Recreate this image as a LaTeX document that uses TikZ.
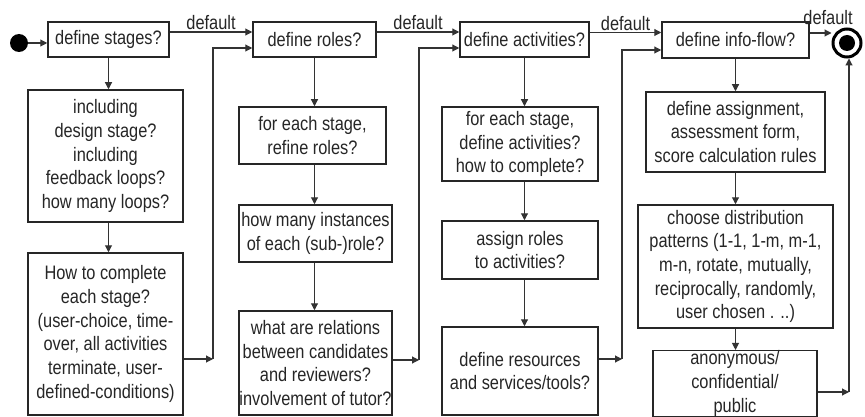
\documentclass[tikz,border=0pt]{standalone}
\usepackage{fontspec}
\setmainfont{Liberation Sans}[FakeStretch=0.84]
\usetikzlibrary{arrows.meta}
\begin{document}
\begin{tikzpicture}[x=1pt,y=-1pt,
  box/.style={draw=black!85, line width=1.5pt, rectangle, inner sep=0pt, align=center,
    font=\fontsize{19.5}{23.7}\selectfont, text=black!85},
  conn/.style={draw=black!80, line width=1.1pt, -{Triangle[length=7pt,width=7pt]}},
  plain/.style={draw=black!80, line width=1.1pt},
  lbl/.style={font=\fontsize{19.5}{23.7}\selectfont, text=black!85, inner sep=1.5pt}]
\useasboundingbox[fill=white] (0,0) rectangle (865,417);

% start / end
\node[circle, fill=black, minimum size=18pt, inner sep=0pt] (start) at (19,43) {};
\node[circle, draw=black, line width=3pt, minimum size=28pt, inner sep=0pt] (end) at (847,43) {};
\node[circle, fill=black, minimum size=16pt, inner sep=0pt] (endin) at (end.center) {};

% column A
\node[box, minimum width=121pt, minimum height=35pt] (A1) at (108.5,39.5) {define stages?};
\node[box, minimum width=155pt, minimum height=132pt] (A2) at (105.5,156) {including\\design stage?\\including\\feedback loops?\\how many loops?};
\node[box, minimum width=155pt, minimum height=162pt] (A3) at (105.5,334) {How to complete\\each stage?\\(user-choice, time-\\over, all activities\\terminate, user-\\defined-conditions)};

% column B
\node[box, minimum width=123pt, minimum height=35pt] (B1) at (314.5,39.5) {define roles?};
\node[box, minimum width=147pt, minimum height=57pt] (B2) at (312.5,135.5) {for each stage,\\refine roles?};
\node[box, minimum width=153pt, minimum height=57pt] (B3) at (315.5,233.5) {how many instances\\of each (sub-)role?};
\node[box, minimum width=153pt, minimum height=104pt] (B4) at (315.5,363) {what are relations\\between candidates\\and reviewers?\\involvement of tutor?};

% column C
\node[box, minimum width=129pt, minimum height=35pt] (C1) at (524.5,39.5) {define activities?};
\node[box, minimum width=156pt, minimum height=74pt] (C2) at (520,144) {for each stage,\\define activities?\\how to complete?};
\node[box, minimum width=156pt, minimum height=58pt] (C3) at (520,250) {assign roles\\to activities?};
\node[box, minimum width=156pt, minimum height=88pt] (C4) at (520,371) {define resources\\and services/tools?};

% column D
\node[box, minimum width=147pt, minimum height=36pt] (D1) at (735.5,40) {define info-flow?};
\node[box, minimum width=179pt, minimum height=80pt] (D2) at (735.5,132) {define assignment,\\assessment form,\\score calculation rules};
\node[box, minimum width=195pt, minimum height=123pt] (D3) at (735.5,266.5) {choose distribution\\patterns (1-1, 1-m, m-1,\\m-n, rotate, mutually,\\reciprocally, randomly,\\user chosen . ..)};
\node[box, minimum width=164pt, minimum height=63pt] (D4) at (735,383.5) {anonymous/\\confidential/\\public};

% junction points
\coordinate (j1) at (213,359);
\coordinate (j2) at (419,360);
\coordinate (j3) at (622,359);
\coordinate (j4) at (849,392);

% start arrow
\draw[conn] (start) -- (start -| A1.west);

% vertical arrows
\draw[conn] (A1.south) -- (A1.south |- A2.north);
\draw[conn] (A1.south |- A2.south) -- (A1.south |- A3.north);
\draw[conn] (B1.south) -- (B1.south |- B2.north);
\draw[conn] (B1.south |- B2.south) -- (B1.south |- B3.north);
\draw[conn] (B1.south |- B3.south) -- (B1.south |- B4.north);
\draw[conn] (C1.south) -- (C1.south |- C2.north);
\draw[conn] (C1.south |- C2.south) -- (C1.south |- C3.north);
\draw[conn] (C1.south |- C3.south) -- (C1.south |- C4.north);
\draw[conn] (D1.south) -- (D1.south |- D2.north);
\draw[conn] (D1.south |- D2.south) -- (D1.south |- D3.north);
\draw[conn] (D1.south |- D3.south) -- (D1.south |- D4.north);

% default arrows
\draw[conn] ([yshift=7.5pt]A1.east) -- ([yshift=7.5pt]A1.east -| B1.west)
  node[lbl, midway, above] {default};
\draw[conn] ([yshift=7.5pt]B1.east) -- ([yshift=7.5pt]B1.east -| C1.west)
  node[lbl, midway, above] {default};
\draw[conn] ([yshift=7pt]C1.east) -- ([yshift=7pt]C1.east -| D1.west)
  node[lbl, midway, above] {default};
\draw[conn] ([yshift=7pt]D1.east) -- ([yshift=7pt]D1.east -| end.west);
\node[lbl] (l4) at (828,18) {default};

% return arrows
\draw[conn] (A3.east |- j1) -- (j1);
\draw[conn] (j1) |- ([yshift=-8.5pt]B1.west);
\draw[conn] (B4.east |- j2) -- (j2);
\draw[conn] (j2) |- ([yshift=-8.5pt]C1.west);
\draw[conn] (C4.east |- j3) -- (j3);
\draw[conn] (j3) |- ([yshift=-10pt]D1.west);
\draw[conn] (D4.east |- j4) -- (j4);
\draw[conn] (j4) -- (j4 |- end.south);
\end{tikzpicture}
\end{document}
